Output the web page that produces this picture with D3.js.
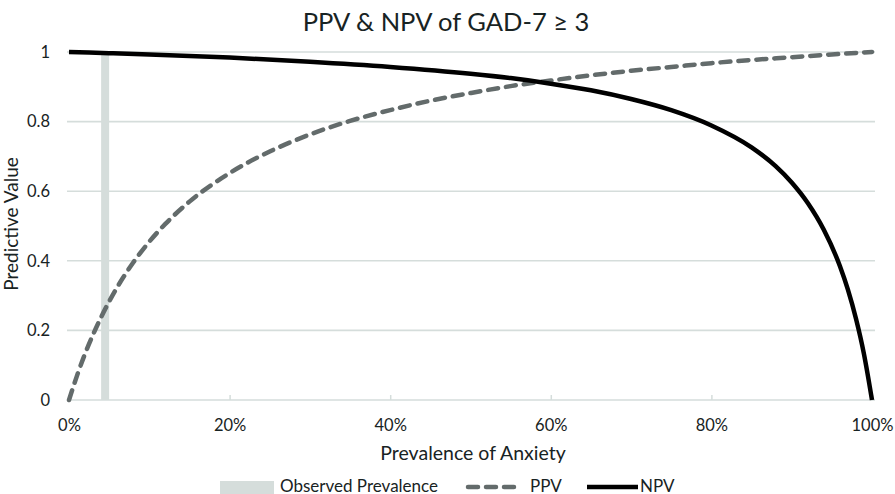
<!DOCTYPE html>
<html><head><meta charset="utf-8">
<script src="https://cdn.jsdelivr.net/npm/d3@7"></script>
<style>body{margin:0;background:#fff}svg{display:block}text{font-family:Lato,"Open Sans",sans-serif;fill:#182323}</style>
</head><body><svg id="c" width="895" height="494"></svg>
<script>
const title = "PPV & NPV of GAD-7 \u2265 3";
const xLabel = "Prevalence of Anxiety";
const yLabel = "Predictive Value";
const xTicks = [0, 0.2, 0.4, 0.6, 0.8, 1.0];
const yTicks = [0, 0.2, 0.4, 0.6, 0.8, 1];
const observedPrevalence = 0.045;
const ppvPrev = [0,0.01,0.02,0.03,0.04,0.05,0.06,0.08,0.10,0.12,0.15,0.20,0.25,0.30,0.35,0.40,0.45,0.50,0.55,0.60,0.65,0.70,0.75,0.80,0.85,0.90,0.95,1.00];
const ppvValues = [0,0.070,0.133,0.188,0.238,0.283,0.324,0.395,0.455,0.506,0.570,0.652,0.714,0.763,0.802,0.833,0.860,0.882,0.902,0.918,0.933,0.946,0.957,0.968,0.977,0.985,0.993,1.000];
const npvPrev = [0,0.05,0.10,0.20,0.30,0.40,0.50,0.55,0.60,0.65,0.70,0.75,0.80,0.85,0.88,0.90,0.92,0.94,0.96,0.97,0.98,0.99,1.00];
const npvValues = [1,0.9965,0.993,0.984,0.972,0.957,0.9375,0.925,0.909,0.890,0.865,0.833,0.789,0.726,0.672,0.625,0.566,0.489,0.385,0.317,0.234,0.132,0];
const legendLabels = ["Observed Prevalence", "PPV", "NPV"];

const svg = d3.select("#c");
const x = d3.scaleLinear().domain([0,1]).range([69,872]);
const y = d3.scaleLinear().domain([0,1]).range([400,52]);
const gridCol = "#d5dddb";
const txtCol = "#182323";

// gridlines
svg.append("g").selectAll("line").data(yTicks).join("line")
  .attr("x1", x(0)-2).attr("x2", x(1)+3)
  .attr("y1", d=>y(d)).attr("y2", d=>y(d))
  .attr("stroke", gridCol).attr("stroke-width", 1.6);

// x axis ticks
const xa = svg.append("g").attr("transform", `translate(0,${y(0)})`)
  .call(d3.axisBottom(x).tickValues(xTicks).tickFormat(d3.format(".0%")).tickSize(-5).tickPadding(19));
xa.select(".domain").remove();
xa.selectAll("line").attr("stroke", gridCol).attr("stroke-width", 1.5);
xa.selectAll("text").attr("font-size", 16.5).attr("fill", txtCol).style("font-family","Lato");

// y axis labels
const ya = svg.append("g").attr("transform", `translate(${x(0)},0)`)
  .call(d3.axisLeft(y).tickValues(yTicks).tickFormat(d=>String(d)).tickSize(0).tickPadding(19));
ya.select(".domain").remove();
ya.selectAll("text").attr("font-size", 16.5).attr("fill", txtCol).style("font-family","Lato");

// observed prevalence bar
svg.append("rect").attr("x", x(observedPrevalence)-4).attr("width", 8)
  .attr("y", y(1)).attr("height", y(0)-y(1)).attr("fill", "#d5dddb");

const line = d3.line().x(d=>x(d[0])).y(d=>y(d[1])).curve(d3.curveMonotoneX);
svg.append("path").datum(ppvPrev.map((p,i)=>[p, ppvValues[i]]))
  .attr("d", line).attr("fill","none").attr("stroke","#636b6b").attr("stroke-width",4.5)
  .attr("stroke-dasharray","10,8").attr("stroke-linecap","round");
svg.append("path").datum(npvPrev.map((p,i)=>[p, npvValues[i]]))
  .attr("d", line).attr("fill","none").attr("stroke","#000").attr("stroke-width",4.5);

// title and labels
svg.append("text").attr("x", 446).attr("y", 31).attr("text-anchor","middle").attr("font-size", 25.5).text(title);
svg.append("text").attr("x", 473).attr("y", 460).attr("text-anchor","middle").attr("font-size", 19.5).text(xLabel);
svg.append("text").attr("transform","translate(17.5,224) rotate(-90)").attr("text-anchor","middle").attr("font-size", 19).text(yLabel);

// legend
const lg = svg.append("g");
lg.append("rect").attr("x",220).attr("y",481).attr("width",54).attr("height",13).attr("fill","#d5dddb");
lg.append("text").attr("x",280).attr("y",491.5).attr("font-size",17).text(legendLabels[0]);
lg.append("line").attr("x1",468).attr("x2",517).attr("y1",487).attr("y2",487)
  .attr("stroke","#636b6b").attr("stroke-width",4.5).attr("stroke-dasharray","10,8").attr("stroke-linecap","round");
lg.append("text").attr("x",530).attr("y",491.5).attr("font-size",17).text(legendLabels[1]);
lg.append("line").attr("x1",587).attr("x2",638).attr("y1",487).attr("y2",487)
  .attr("stroke","#000").attr("stroke-width",4.5);
lg.append("text").attr("x",640).attr("y",491.5).attr("font-size",17).text(legendLabels[2]);
</script></body></html>
